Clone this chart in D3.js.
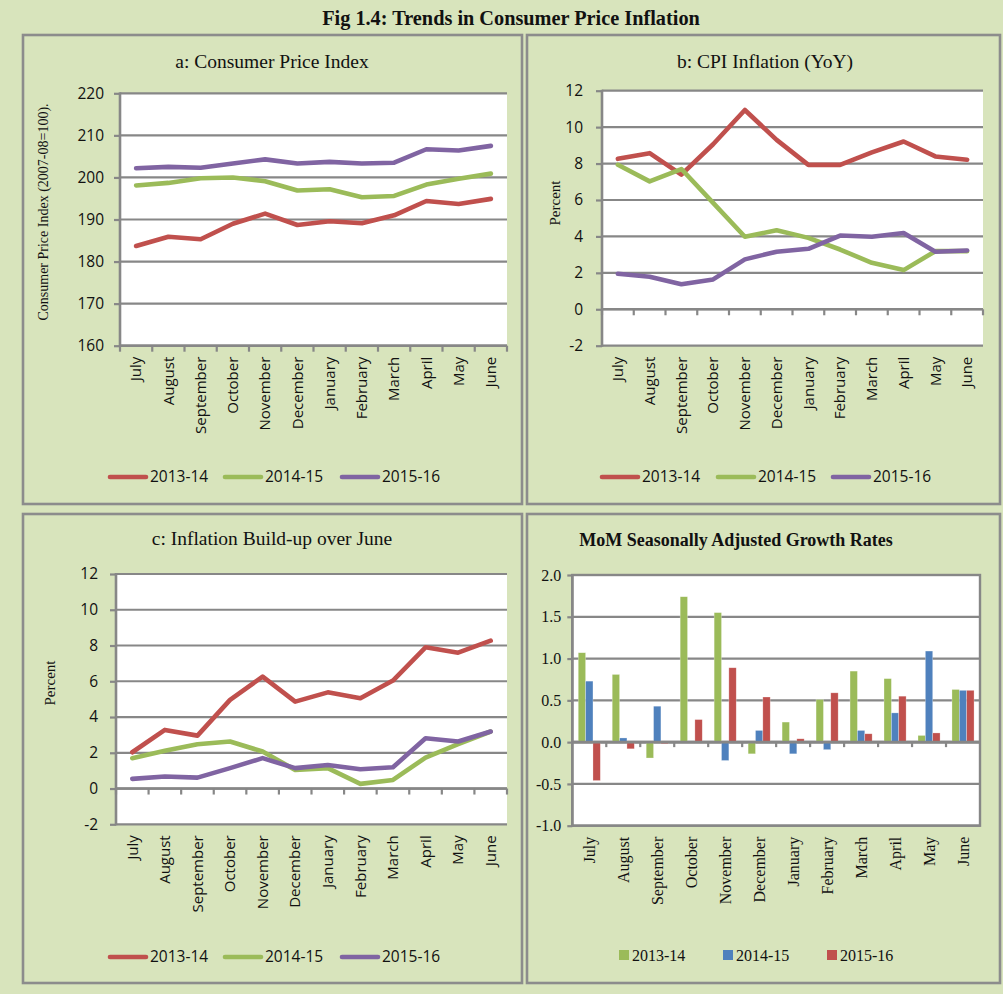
<!DOCTYPE html>
<html><head><meta charset="utf-8">
<script src="https://cdn.jsdelivr.net/npm/d3@7"></script>
<style>body{margin:0;background:#d8e4bc;} svg{display:block}</style>
</head><body><svg id="c" width="1003" height="994"></svg>
<script>
// ---------- DATA ----------
const months = ["July","August","September","October","November","December","January","February","March","April","May","June"];
const years = ["2013-14","2014-15","2015-16"];

// a: Consumer Price Index
const cpi1314 = [183.7,185.9,185.3,189.0,191.4,188.7,189.6,189.1,191.0,194.4,193.7,194.9];
const cpi1415 = [198.1,198.7,199.8,200.0,199.1,196.9,197.2,195.3,195.6,198.3,199.7,200.9];
const cpi1516 = [202.2,202.5,202.3,203.3,204.3,203.3,203.7,203.3,203.5,206.7,206.4,207.5];
const cpiTicks = [160,170,180,190,200,210,220];

// b: CPI Inflation (YoY)
const yoy1314 = [8.26,8.57,7.39,9.06,10.94,9.30,7.93,7.93,8.61,9.21,8.39,8.21];
const yoy1415 = [7.93,7.02,7.70,5.84,3.98,4.34,3.92,3.28,2.55,2.15,3.19,3.19];
const yoy1516 = [1.95,1.79,1.37,1.64,2.74,3.16,3.32,4.05,3.98,4.19,3.16,3.23];
const pctTicks = [-2,0,2,4,6,8,10,12];

// c: Inflation Build-up over June
const bu1314 = [2.03,3.28,2.96,4.96,6.26,4.86,5.38,5.05,6.04,7.90,7.60,8.27];
const bu1415 = [1.70,2.11,2.48,2.63,2.07,1.04,1.14,0.26,0.48,1.73,2.48,3.19];
const bu1516 = [0.54,0.67,0.61,1.14,1.70,1.14,1.32,1.08,1.19,2.81,2.63,3.19];

// d: MoM Seasonally Adjusted Growth Rates
const mom1314 = [1.07,0.81,-0.19,1.74,1.55,-0.14,0.24,0.51,0.85,0.76,0.08,0.63];
const mom1415 = [0.73,0.05,0.43,0.00,-0.22,0.14,-0.14,-0.09,0.14,0.35,1.09,0.62];
const mom1516 = [-0.46,-0.08,-0.02,0.27,0.89,0.54,0.04,0.59,0.10,0.55,0.11,0.62];
const momTicks = [-1.0,-0.5,0.0,0.5,1.0,1.5,2.0];

const lineColors = ["#c0504d","#9bbb59","#8064a2"];
const barColors = ["#9bbb59","#4f81bd","#c0504d"];

// ---------- DRAW ----------
const svg = d3.select("#c");
const SANS = "'Open Sans', sans-serif";
const SERIF = "'Liberation Serif', 'Times New Roman', serif";
const GRID = "#878787";
const fmtInt = d => (d < 0 ? "-" : "") + Math.abs(d).toFixed(0);
const fmt1 = d => (d < 0 ? "-" : "") + Math.abs(d).toFixed(1);

svg.append("rect").attr("x",0).attr("y",0).attr("width",1003).attr("height",994).attr("fill","#d8e4bc");

svg.append("text").attr("x",511).attr("y",25).attr("text-anchor","middle")
  .attr("font-family",SERIF).attr("font-weight","bold").attr("font-size",20.3).attr("fill","#111")
  .text("Fig 1.4: Trends in Consumer Price Inflation");

function box(x0,y0,x1,y1){
  svg.append("rect").attr("x",x0).attr("y",y0).attr("width",x1-x0).attr("height",y1-y0)
    .attr("fill","none").attr("stroke","#8c8c8c").attr("stroke-width",2.6);
}
box(23,35,522,504); box(527,35,1000,504); box(23,514,522,983); box(527,514,1000,983);

function frame(o){
  const g = svg.append("g");
  const x = d3.scaleBand().domain(months).range([o.x0,o.x1]);
  const y = d3.scaleLinear().domain([o.ticks[0],o.ticks[o.ticks.length-1]]).range([o.yb,o.yt]);
  g.append("rect").attr("x",o.x0).attr("y",o.yt).attr("width",o.x1-o.x0).attr("height",o.yb-o.yt).attr("fill","#fff")
    .attr("stroke",o.border?GRID:"none").attr("stroke-width",2.4);
  // gridlines
  g.selectAll(".gl").data(o.ticks).enter().append("line")
    .attr("x1",o.x0).attr("x2",o.x1).attr("y1",d=>y(d)).attr("y2",d=>y(d))
    .attr("stroke",GRID).attr("stroke-width",2.2);
  // y axis
  const ya = g.append("g").attr("transform",`translate(${o.x0},0)`)
    .call(d3.axisLeft(y).tickValues(o.ticks).tickSize(o.tickLen).tickPadding(o.pad).tickFormat(o.fmt));
  ya.select(".domain").remove();
  ya.selectAll(".tick line").attr("stroke",GRID).attr("stroke-width",2.2);
  ya.selectAll("text").attr("font-family",o.tickFont).attr("font-size",o.tickSize).attr("fill","#111");
  g.append("line").attr("x1",o.x0).attr("x2",o.x0).attr("y1",o.yt-1).attr("y2",o.yb+1).attr("stroke",GRID).attr("stroke-width",2.6);
  // x axis at zero (or bottom)
  const zy = y(o.zero);
  g.append("line").attr("x1",o.x0).attr("x2",o.x1).attr("y1",zy).attr("y2",zy).attr("stroke",GRID).attr("stroke-width",2.6);
  const bounds = months.map(m=>x(m)).concat([o.x1]).slice(o.tickFrom, 13 - o.tickFrom);
  g.selectAll(".xt").data(bounds).enter().append("line")
    .attr("x1",d=>d).attr("x2",d=>d).attr("y1",zy).attr("y2",zy+o.xTickLen)
    .attr("stroke",GRID).attr("stroke-width",2.2);
  // x labels
  g.selectAll(".xl").data(months).enter().append("text")
    .attr("transform",d=>`translate(${x(d)+x.bandwidth()/2},${o.yb+o.labOff}) rotate(-90)`)
    .attr("text-anchor","end").attr("dy","0.35em")
    .attr("font-family",o.xFont).attr("font-size",o.xSize).attr("fill","#111").text(d=>d);
  // titles
  svg.append("text").attr("x",o.tx).attr("y",o.ty).attr("text-anchor","middle")
    .attr("font-family",SERIF).attr("font-size",o.tSize).attr("font-weight",o.tBold?"bold":"normal")
    .attr("fill","#111").text(o.title);
  if(o.yTitle){
    svg.append("text").attr("transform",`translate(${o.ytx},${o.yty}) rotate(-90)`).attr("text-anchor","middle")
      .attr("font-family",SERIF).attr("font-size",o.ytSize).attr("fill","#111").text(o.yTitle);
  }
  return {g,x,y};
}

function linePanel(o){
  const {g,x,y} = frame(Object.assign({tickLen:6,xTickLen:6,tickFrom:0,tickFont:SANS,tickSize:15.5,xFont:SANS,xSize:15,labOff:11,tSize:19.5,ytSize:15},o));
  const line = d3.line().x((d,i)=>x(months[i])+x.bandwidth()/2).y(d=>y(d));
  o.series.forEach((s,i)=>{
    g.append("path").attr("d",line(s)).attr("fill","none").attr("stroke",lineColors[i])
      .attr("stroke-width",4.6).attr("stroke-linejoin","round").attr("stroke-linecap","round");
  });
  const lg = svg.append("g");
  years.forEach((yr,i)=>{
    const sx = o.legX[i];
    lg.append("line").attr("x1",sx).attr("x2",sx+36).attr("y1",o.legY).attr("y2",o.legY)
      .attr("stroke",lineColors[i]).attr("stroke-width",4.6).attr("stroke-linecap","round");
    lg.append("text").attr("x",sx+40).attr("y",o.legY).attr("dy","0.35em")
      .attr("font-family",SANS).attr("font-size",15.5).attr("fill","#111").text(yr);
  });
}

linePanel({x0:120,x1:507,yt:93.3,yb:345.7,ticks:cpiTicks,zero:160,fmt:fmtInt,pad:10,
  series:[cpi1314,cpi1415,cpi1516],title:"a: Consumer Price Index",tx:272,ty:68,
  yTitle:"Consumer Price Index (2007-08=100).",ytx:48,yty:212,ytSize:14,legX:[110,225,342],legY:477});

linePanel({x0:602,x1:983,yt:90.7,yb:345.7,ticks:pctTicks,zero:0,fmt:fmtInt,pad:13,
  series:[yoy1314,yoy1415,yoy1516],title:"b: CPI Inflation (YoY)",tx:765,ty:68,
  yTitle:"Percent",ytx:560,yty:203,legX:[602,718,833],legY:477});

linePanel({x0:116,x1:507,yt:574,yb:824.3,ticks:pctTicks,zero:0,fmt:fmtInt,pad:12,
  series:[bu1314,bu1415,bu1516],title:"c: Inflation Build-up over June",tx:272,ty:545,
  yTitle:"Percent",ytx:55,yty:683,legX:[110,225,342],legY:957});

// d: bars
(function(){
  const o = {x0:572.3,x1:980,yt:575,yb:825.7,ticks:momTicks,zero:0,fmt:fmt1,pad:6,tickLen:5,
    xTickLen:5,tickFrom:1,tickFont:SERIF,tickSize:16,xFont:SERIF,xSize:16,labOff:11,border:true,
    title:"MoM Seasonally Adjusted Growth Rates",tx:736,ty:546,tSize:18,tBold:true};
  const {g,x,y} = frame(o);
  const bw = x.bandwidth();
  const xs = d3.scaleBand().domain(years).range([bw*0.175,bw*0.825]);
  const data = [mom1314,mom1415,mom1516];
  const bars = svg.append("g");
  years.forEach((yr,si)=>{
    bars.selectAll(".b"+si).data(data[si]).enter().append("rect")
      .attr("x",(d,i)=>x(months[i])+xs(yr))
      .attr("width",xs.bandwidth())
      .attr("y",d=>Math.min(y(d),y(0)))
      .attr("height",d=>Math.abs(y(d)-y(0)))
      .attr("fill",barColors[si]).attr("stroke","#ffffff").attr("stroke-opacity",0.45).attr("stroke-width",0.6);
  });
  // redraw zero axis on top
  svg.append("line").attr("x1",o.x0).attr("x2",o.x1).attr("y1",y(0)).attr("y2",y(0)).attr("stroke",GRID).attr("stroke-width",2.6);
  const lg = svg.append("g");
  const legX = [619,723,827];
  years.forEach((yr,i)=>{
    lg.append("rect").attr("x",legX[i]).attr("y",950).attr("width",10).attr("height",10).attr("fill",barColors[i]);
    lg.append("text").attr("x",legX[i]+13).attr("y",955).attr("dy","0.35em")
      .attr("font-family",SERIF).attr("font-size",16).attr("fill","#111").text(yr);
  });
})();
</script></body></html>
